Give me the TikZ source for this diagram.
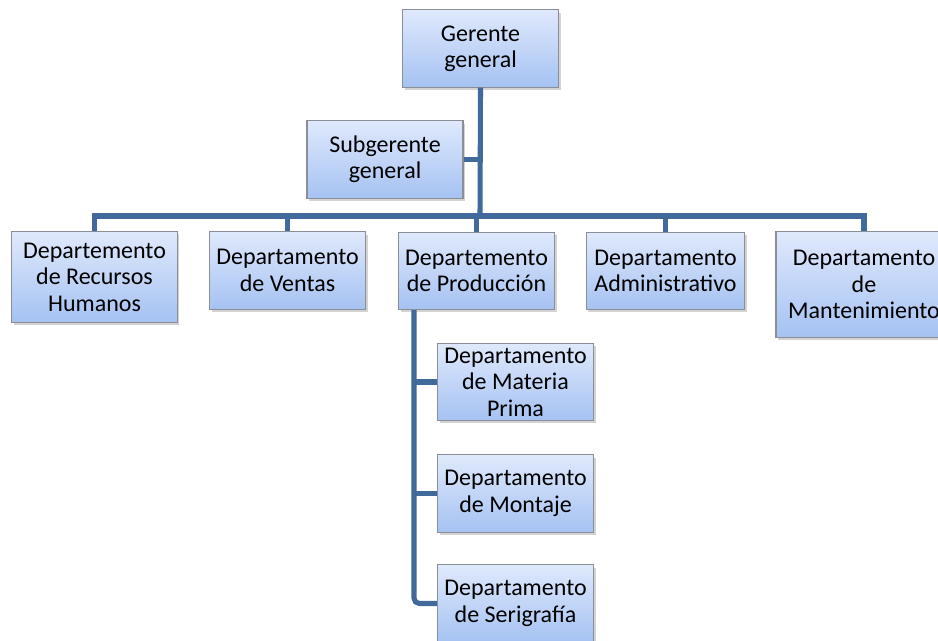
\documentclass[tikz,border=0pt]{standalone}
\usepackage{fontspec}
\setmainfont{Carlito}
\usepackage{tikz}
\usetikzlibrary{shadows}
\definecolor{linkblue}{HTML}{41699C}
\definecolor{boxtop}{HTML}{DFE9FC}
\definecolor{boxbot}{HTML}{A5C2F2}
\definecolor{boxline}{HTML}{8A8E96}

\begin{document}
\begin{tikzpicture}[x=0.75pt,y=-0.75pt,
    unit/.style={draw=boxline,line width=0.8pt,top color=boxtop,bottom color=boxbot,
      minimum width=117pt,minimum height=58pt,align=center,inner sep=1pt,
      font=\fontsize{18}{19.8}\selectfont,
      drop shadow={opacity=0.35,shadow xshift=1.5pt,shadow yshift=-2pt}},
    link/.style={draw=linkblue,line width=3.8pt}]
    \useasboundingbox (0,0) rectangle (938,640);
    \clip (0,0) rectangle (938,640);
    \node[unit] (ger) at (480.5,48.5) {Gerente\\general};
    \node[unit] (sub) at (385,159.5) {Subgerente\\general};
    \node[unit,minimum width=124pt,minimum height=68pt] (rh) at (94.5,277) {Departemento\\de Recursos\\Humanos};
    \node[unit] (ven) at (287.5,270.5) {Departamento\\de Ventas};
    \node[unit] (prod) at (476.5,271) {Departemento\\de Producción};
    \node[unit,minimum width=119pt] (adm) at (665.5,271) {Departamento\\Administrativo};
    \node[unit,minimum width=132pt,minimum height=79pt] (mant) at (864,284.5) {Departamento\\de\\Mantenimiento};
    \node[unit] (mat) at (515.5,382) {Departamento\\de Materia\\Prima};
    \node[unit] (mon) at (515.5,493.5) {Departamento\\de Montaje};
    \node[unit] (seri) at (515.5,603.5) {Departamento\\de Serigrafía};
    \coordinate (bus) at (480,216);
    \coordinate (pv) at (414,310);
    \draw[link] (ger.south) -- (bus);
    \draw[link] (sub.east) -- (sub.east -| bus);
    \draw[link] (rh.north) |- (bus) -| (mant.north);
    \draw[link] (ven.north) -- (ven.north |- bus);
    \draw[link] (prod.north) -- (prod.north |- bus);
    \draw[link] (adm.north) -- (adm.north |- bus);
    \draw[link,rounded corners=4pt] (pv) |- (seri.west);
    \draw[link] (pv |- mat.west) -- (mat.west);
    \draw[link] (pv |- mon.west) -- (mon.west);
\end{tikzpicture}
\end{document}
